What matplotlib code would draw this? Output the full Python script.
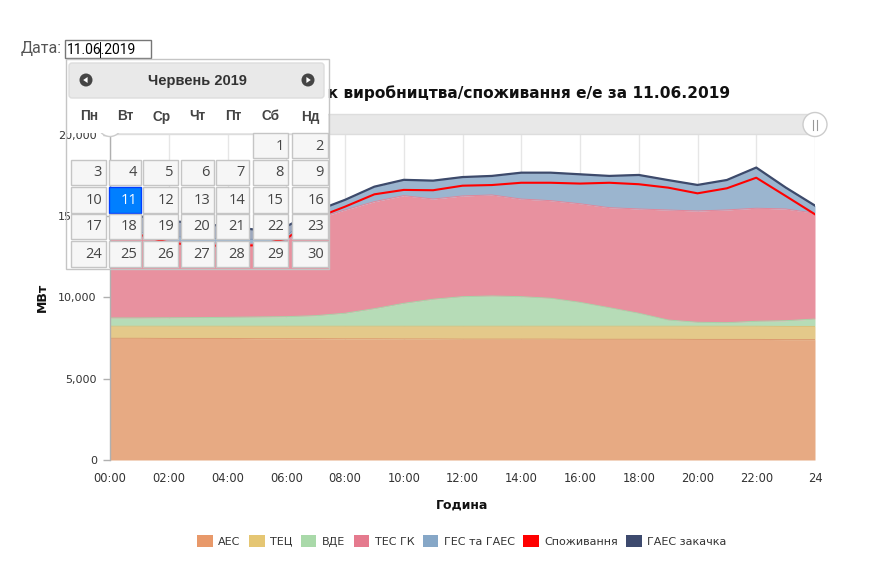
import calendar
import numpy as np
import matplotlib
matplotlib.use("Agg")
import matplotlib.pyplot as plt
from matplotlib.patches import Rectangle, FancyBboxPatch, Circle, Polygon, Patch
from matplotlib.ticker import FuncFormatter

# ---------------- data (MW, hourly, 00:00 .. 24) ----------------
hours = list(range(25))
aes = [7480, 7480, 7470, 7470, 7470, 7460, 7460, 7460, 7450, 7450, 7440, 7440, 7430,
       7430, 7430, 7430, 7420, 7420, 7420, 7420, 7410, 7410, 7410, 7400, 7400]
tec = [740, 740, 750, 750, 750, 760, 760, 760, 770, 770, 780, 780, 790,
       790, 790, 790, 800, 800, 800, 800, 810, 810, 810, 810, 810]
vde = [510, 510, 520, 530, 550, 570, 590, 650, 800, 1080, 1410, 1660, 1820,
       1860, 1820, 1720, 1470, 1140, 800, 385, 245, 220, 305, 350, 455]
tes = [5370, 4970, 4710, 4600, 4530, 4490, 4640, 5940, 6350, 6580, 6620, 6160, 6190,
       6210, 6000, 6000, 6060, 6150, 6410, 6760, 6840, 6930, 6950, 6870, 6500]
ges = [300, 300, 300, 280, 280, 280, 300, 490, 620, 920, 970, 1130, 1160,
       1170, 1620, 1720, 1810, 1950, 2090, 1840, 1600, 1840, 2500, 1320, 470]
gaes_pump = [800, 980, 950, 920, 770, 590, 600, 0, 0, 0, 0, 0, 0,
             0, 0, 0, 0, 0, 0, 0, 0, 0, 0, 0, 0]
consumption = [14700, 13850, 13350, 13200, 13150, 13200, 13600, 14870, 15570, 16330, 16600, 16580, 16860,
               16900, 17040, 17040, 16990, 17040, 16950, 16740, 16390, 16700, 17350, 16230, 15100]

series_names = ["АЕС", "ТЕЦ", "ВДЕ", "ТЕС ГК", "ГЕС та ГАЕС", "Споживання", "ГАЕС закачка"]
x_ticks = list(range(0, 25, 2))
x_tick_labels = ["00:00", "02:00", "04:00", "06:00", "08:00", "10:00", "12:00",
                 "14:00", "16:00", "18:00", "20:00", "22:00", "24"]
y_ticks = [0, 5000, 10000, 15000, 20000]
title_text = "Графік виробництва/споживання е/е за 11.06.2019"
date_text = "11.06.2019"
month_text = "Червень 2019"
weekdays = ["Пн", "Вт", "Ср", "Чт", "Пт", "Сб", "Нд"]
sel_year, sel_month, sel_day = 2019, 6, 11

# ---------------- styles ----------------
fill_cols = ["#e7aa83", "#e4c98a", "#b6dcb7", "#e8919f", "#9bb5cf"]
edge_cols = ["#dc9a70", "#dcbf78", "#a6d4a8", "#e2869a", "#8eaaca"]
legend_cols = ["#e8996a", "#e5c673", "#a9d9a9", "#e57a8e", "#86a7c7", "#ff0000", "#3d4a6e"]
navy = "#3d4a6b"

W, H = 879, 581
fig = plt.figure(figsize=(W / 100, H / 100), dpi=100)
L, R, T, B = 110, 815, 134.6, 460
ax = fig.add_axes([L / W, 1 - B / H, (R - L) / W, (B - T) / H])

x = np.array(hours, dtype=float)
layers = [np.array(a, dtype=float) for a in (aes, tec, vde, tes, ges)]
base = np.zeros_like(x)
for i, lay in enumerate(layers):
    top = base + lay
    ax.fill_between(x, base, top, color=fill_cols[i], lw=0, zorder=2)
    ax.plot(x, top, color=edge_cols[i], lw=0.7, zorder=2.5)
    base = top
pump_top = base + np.array(gaes_pump, dtype=float)
ax.fill_between(x, base, pump_top, color="#7484a3", alpha=0.7, lw=0, zorder=2.6)
ax.plot(x, pump_top, color=navy, lw=1.6, zorder=4, solid_joinstyle="round")
ax.plot(x, consumption, color="#ff0000", lw=1.5, zorder=4.5, solid_joinstyle="round")

ax.set_xlim(0, 24)
ax.set_ylim(0, 20000)
ax.set_xticks(x_ticks)
ax.set_xticklabels(x_tick_labels)
ax.set_yticks(y_ticks)
ax.yaxis.set_major_formatter(FuncFormatter(lambda v, p: f"{int(v):,}"))
ax.grid(axis="x", color="#e6e6e6", lw=1, zorder=0)
ax.set_axisbelow(True)
for s in ("top", "right", "bottom"):
    ax.spines[s].set_visible(False)
ax.spines["left"].set_color("#b0b0b0")
ax.spines["left"].set_linewidth(1)
ax.tick_params(axis="x", length=0, pad=9, labelsize=8.3, labelcolor="#333333")
ax.tick_params(axis="y", length=5, width=1, color="#b0b0b0", pad=4.5,
               labelsize=8, labelcolor="#333333")

# ---------------- overlay in pixel coordinates ----------------
ov = fig.add_axes([0, 0, 1, 1], zorder=10)
ov.set_xlim(0, W)
ov.set_ylim(H, 0)
ov.axis("off")
ov.patch.set_alpha(0)

ax.set_xlabel("Година", fontsize=9, fontweight="bold", color="#111111")
ax.xaxis.set_label_coords(462, 499, transform=ov.transData)
ax.set_ylabel("МВт", fontsize=9, fontweight="bold", color="#111111")
ax.yaxis.set_label_coords(49, 297, transform=ov.transData)

# title (left part hidden behind the date picker)
ov.text(730, 93, title_text, ha="right", va="center", fontsize=11.1,
        fontweight="bold", color="#111111", zorder=1)

# navigator bar
ov.add_patch(Rectangle((110, 114), 705, 20, fc="#e8e8e8", ec="#dddddd", lw=1, zorder=2))
for cx in (110, 815):
    ov.add_patch(Circle((cx, 124.5), 12, fc="white", ec="#cccccc", lw=1, zorder=3))
    for dx in (-1.6, 1.6):
        ov.plot([cx + dx, cx + dx], [119.5, 129.5], color="#999999", lw=0.8, zorder=4)

# legend
handles = [Patch(facecolor=c, edgecolor="none") for c in legend_cols]
fig.legend(handles, series_names, loc="center", bbox_to_anchor=(462 / W, 1 - 541 / H),
           ncol=7, frameon=False, fontsize=8, handlelength=1.4, handleheight=1.4,
           handletextpad=0.5, columnspacing=0.75, labelcolor="#333333")

# date label and input
ov.text(21, 49, "Дата:", ha="left", va="center", fontsize=11.5, color="#555555",
        family="Roboto", zorder=6)
ov.add_patch(Rectangle((65, 40), 86, 18, fc="white", ec="#767676", lw=1, zorder=6))
ov.text(67, 49.5, date_text, ha="left", va="center", fontsize=10, color="#000000",
        family="Roboto", zorder=7)
ov.plot([100.5, 100.5], [42, 56.5], color="#000000", lw=0.7, zorder=8)

# date picker popup
ov.add_patch(Rectangle((67, 60), 261, 73, fc="white", ec="none", zorder=5))
ov.add_patch(Rectangle((66, 59), 263, 210, fc="none", ec="#c5c5c5", lw=1, zorder=9))
ov.add_patch(FancyBboxPatch((69, 63), 255, 35, boxstyle="round,pad=0,rounding_size=3",
                            fc="#e9e9e9", ec="#dddddd", lw=1, zorder=6))
ov.text(197, 80.5, month_text, ha="center", va="center", fontsize=10.5,
        fontweight="bold", color="#333333", family="Liberation Sans", zorder=7)
for cx, d in ((86, -1), (308, 1)):
    ov.add_patch(Circle((cx, 80), 6.5, fc="#454545", ec="none", zorder=7))
    ov.add_patch(Polygon([(cx + 2.8 * d, 80), (cx - 1.6 * d, 77), (cx - 1.6 * d, 83)],
                         closed=True, fc="white", ec="none", zorder=8))

wd_x = [89, 125, 162, 197.5, 233, 270.5, 310]
for wx, wd in zip(wd_x, weekdays):
    ov.text(wx, 116.5, wd, ha="center", va="center", fontsize=9.8, fontweight="bold",
            color="#444444", family="Liberation Sans", zorder=7)

col_x = [(71, 106), (109, 141), (143, 178), (181, 214), (216, 249), (253, 288), (292, 328)]
row_y = [(133, 158), (160, 185), (187, 213), (214, 239), (241, 267)]
weeks = calendar.monthcalendar(sel_year, sel_month)
for r, week in enumerate(weeks):
    y0, y1 = row_y[r]
    for c, day in enumerate(week):
        if day == 0:
            continue
        x0, x1 = col_x[c]
        sel = day == sel_day
        ov.add_patch(Rectangle((x0, y0), x1 - x0, y1 - y0,
                               fc="#007fff" if sel else "#f6f6f6",
                               ec="#003eff" if sel else "#c5c5c5", lw=1, zorder=6))
        ov.text(x1 - 4, (y0 + y1) / 2 + 0.5, str(day), ha="right", va="center",
                fontsize=10.5, color="white" if sel else "#454545",
                family="Open Sans", zorder=7)

fig.savefig("out.png", dpi=100)
